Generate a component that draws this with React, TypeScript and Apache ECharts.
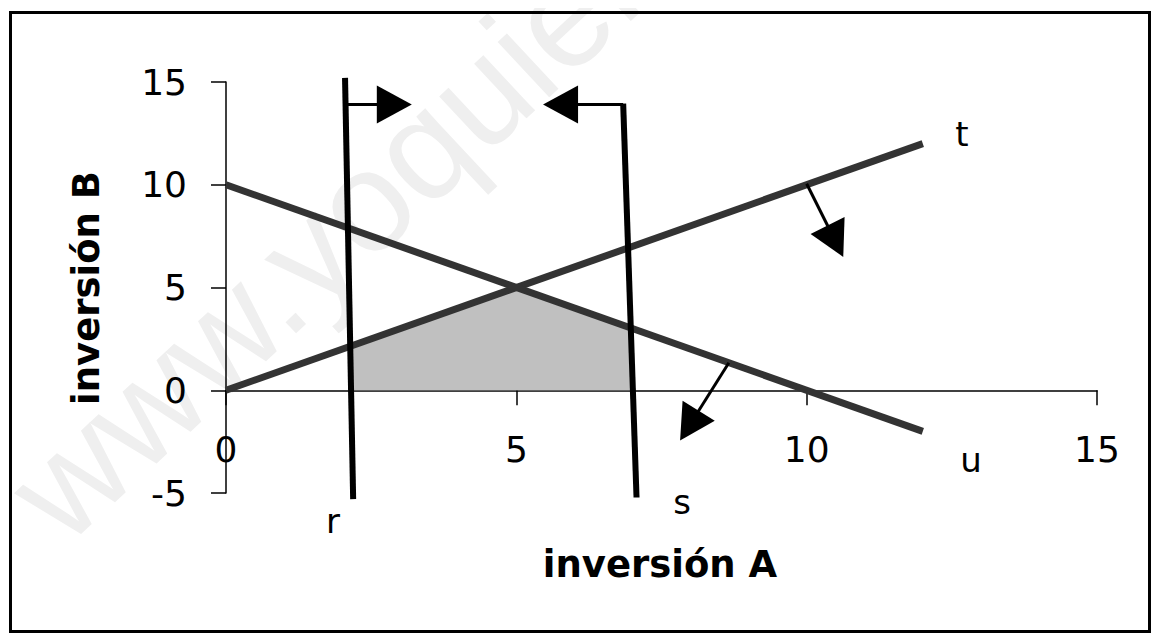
import React, { useEffect, useRef } from "react";
import * as echarts from "echarts";

// Axis ranges and tick step
const xRange = [0, 15];
const yRange = [-5, 15];
const tickStep = 5;

// Constraint lines (two end points each)
const tX = [0, 12];
const tY = [0, 12];
const uX = [0, 12];
const uY = [10, -2];
const rX = [2.05, 2.19];
const rY = [15.2, -5.3];
const sX = [6.84, 7.07];
const sY = [13.95, -5.22];

// Feasible region vertices
const shadeX = [2.15, 2.14, 5, 6.97, 7.0];
const shadeY = [0, 2.14, 5, 3.03, 0];

// Direction arrows: start point and tip point
const arrowStartX = [2.05, 6.84, 10.0, 8.66];
const arrowStartY = [13.9, 13.9, 10.05, 1.34];
const arrowTipX = [3.2, 5.46, 10.63, 7.82];
const arrowTipY = [13.9, 13.9, 6.49, -2.44];

const xName = "inversión A";
const yName = "inversión B";
const watermark = "www.yoquieroaprobar.es";

const zip = (a: number[], b: number[]) => a.map((v, i) => [v, b[i]]);

export default function App() {
  const ref = useRef<HTMLDivElement>(null);

  useEffect(() => {
    if (!ref.current) return;
    const chart = echarts.init(ref.current, undefined, { renderer: "svg" });
    const font = "DejaVu Sans";
    const arrowData = arrowStartX.map((v, i) => [v, arrowStartY[i], arrowTipX[i], arrowTipY[i]]);
    const gridTop = 74;
    const gridBottom = 142;
    const gridH = 627 - gridTop - gridBottom;
    // shift x axis from bottom edge up to the y = 0 line
    const zeroOffset = -gridH * ((0 - yRange[0]) / (yRange[1] - yRange[0]));

    const option: any = {
      animation: false,
      backgroundColor: "#ffffff",
      grid: { left: 218, right: 55, top: gridTop, bottom: gridBottom, containLabel: false },
      xAxis: {
        type: "value",
        min: xRange[0],
        max: xRange[1],
        interval: tickStep,
        offset: zeroOffset,
        axisLine: { show: true, onZero: false, lineStyle: { color: "#000", width: 1.5 } },
        axisTick: { show: true, length: 15, lineStyle: { color: "#000", width: 1.5 } },
        axisLabel: {
          show: true,
          margin: 41,
          color: "#000",
          fontFamily: font,
          fontSize: 36,
          showMinLabel: true,
          showMaxLabel: true,
        },
        splitLine: { show: false },
      },
      yAxis: {
        type: "value",
        min: yRange[0],
        max: yRange[1],
        interval: tickStep,
        axisLine: { show: true, onZero: false, lineStyle: { color: "#000", width: 1.5 } },
        axisTick: { show: true, length: 15, lineStyle: { color: "#000", width: 1.5 } },
        axisLabel: {
          show: true,
          margin: 39,
          color: "#000",
          fontFamily: font,
          fontSize: 36,
          showMinLabel: true,
          showMaxLabel: true,
        },
        splitLine: { show: false },
      },
      series: [
        {
          type: "line",
          name: "region",
          data: zip(shadeX, shadeY),
          showSymbol: false,
          symbol: "none",
          lineStyle: { width: 0, opacity: 0 },
          areaStyle: { color: "#c0c0c0", opacity: 1, origin: 0 },
          z: 1,
          silent: true,
        },
        {
          type: "line",
          name: "t",
          data: zip(tX, tY),
          symbol: "none",
          clip: false,
          lineStyle: { color: "#333333", width: 7 },
          z: 3,
        },
        {
          type: "line",
          name: "u",
          data: zip(uX, uY),
          symbol: "none",
          clip: false,
          lineStyle: { color: "#333333", width: 7 },
          z: 3,
        },
        {
          type: "line",
          name: "r",
          data: zip(rX, rY),
          symbol: "none",
          clip: false,
          lineStyle: { color: "#000000", width: 6 },
          z: 4,
        },
        {
          type: "line",
          name: "s",
          data: zip(sX, sY),
          symbol: "none",
          clip: false,
          lineStyle: { color: "#000000", width: 6 },
          z: 4,
        },
        {
          type: "custom",
          name: "arrows",
          data: arrowData,
          dimensions: ["x1", "y1", "x2", "y2"],
          encode: { x: [0, 2], y: [1, 3] },
          clip: false,
          z: 5,
          renderItem: (params: any, api: any) => {
            const p1 = api.coord([api.value(0), api.value(1)]);
            const p2 = api.coord([api.value(2), api.value(3)]);
            const dx = p2[0] - p1[0];
            const dy = p2[1] - p1[1];
            const len = Math.hypot(dx, dy) || 1;
            const ux = dx / len;
            const uy = dy / len;
            const L = 35;
            const W = 19;
            const bx = p2[0] - ux * L;
            const by = p2[1] - uy * L;
            const px = -uy;
            const py = ux;
            return {
              type: "group",
              children: [
                {
                  type: "line",
                  shape: { x1: p1[0], y1: p1[1], x2: bx + ux * 3, y2: by + uy * 3 },
                  style: { stroke: "#000", lineWidth: 3 },
                },
                {
                  type: "polygon",
                  shape: {
                    points: [
                      [p2[0], p2[1]],
                      [bx + px * W, by + py * W],
                      [bx - px * W, by - py * W],
                    ],
                  },
                  style: { fill: "#000" },
                },
              ],
            };
          },
        },
      ],
      graphic: [
        {
          type: "text",
          x: 24,
          y: 504,
          rotation: (43 * Math.PI) / 180,
          z: -1,
          silent: true,
          style: {
            text: watermark,
            fontFamily: "Liberation Sans",
            fontSize: 143,
            fill: "#efefef",
            textAlign: "left",
            textVerticalAlign: "middle",
          },
        },
        {
          type: "rect",
          z: 100,
          shape: { x: 2.5, y: 4.5, width: 1139, height: 619 },
          style: { fill: "none", stroke: "#000", lineWidth: 3 },
          silent: true,
        },
        {
          type: "text",
          x: 652,
          y: 556,
          z: 100,
          style: {
            text: xName,
            fontFamily: font,
            fontWeight: "bold",
            fontSize: 37,
            fill: "#000",
            textAlign: "center",
            textVerticalAlign: "middle",
          },
        },
        {
          type: "text",
          x: 78,
          y: 280,
          rotation: Math.PI / 2,
          z: 100,
          style: {
            text: yName,
            fontFamily: font,
            fontWeight: "bold",
            fontSize: 37,
            fill: "#000",
            textAlign: "center",
            textVerticalAlign: "middle",
          },
        },
        ...[
          { t: "t", x: 954, y: 126 },
          { t: "u", x: 963, y: 452 },
          { t: "r", x: 325, y: 513 },
          { t: "s", x: 674, y: 494 },
        ].map((l) => ({
          type: "text",
          x: l.x,
          y: l.y,
          z: 100,
          style: {
            text: l.t,
            fontFamily: font,
            fontSize: 34,
            fill: "#000",
            textAlign: "center",
            textVerticalAlign: "middle",
          },
        })),
      ],
    };

    chart.setOption(option);
    return () => chart.dispose();
  }, []);

  return <div ref={ref} style={{ width: 1144, height: 627 }} />;
}
